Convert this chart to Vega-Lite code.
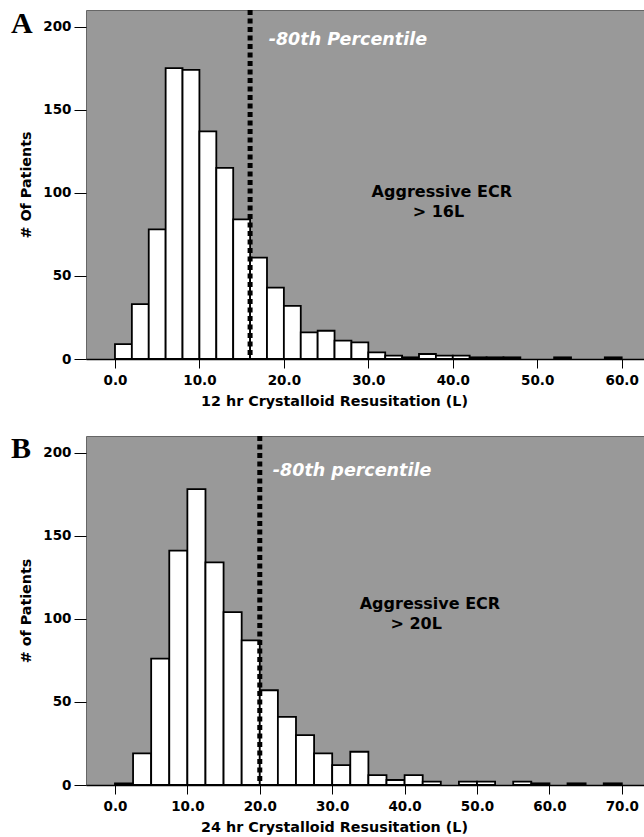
{
  "$schema": "https://vega.github.io/schema/vega-lite/v6.json",
  "background": "white",
  "padding": {"left": 10, "top": 7, "right": 0, "bottom": 2},
  "spacing": 23,
  "config": {
    "view": {"fill": "#999999", "stroke": "#666666", "strokeWidth": 1},
    "font": "DejaVu Sans",
    "axis": {
      "grid": false,
      "labelFont": "DejaVu Sans", "labelFontWeight": "bold", "labelFontSize": 13.5, "labelColor": "black",
      "titleFont": "DejaVu Sans", "titleFontWeight": "bold", "titleFontSize": 14.3, "titleColor": "black",
      "tickColor": "black", "tickWidth": 1
    }
  },
  "datasets": {
    "binsA": [
      {"x0": 0, "x1": 2, "n": 9}, {"x0": 2, "x1": 4, "n": 33}, {"x0": 4, "x1": 6, "n": 78},
      {"x0": 6, "x1": 8, "n": 175}, {"x0": 8, "x1": 10, "n": 174}, {"x0": 10, "x1": 12, "n": 137},
      {"x0": 12, "x1": 14, "n": 115}, {"x0": 14, "x1": 16, "n": 84}, {"x0": 16, "x1": 18, "n": 61},
      {"x0": 18, "x1": 20, "n": 43}, {"x0": 20, "x1": 22, "n": 32}, {"x0": 22, "x1": 24, "n": 16},
      {"x0": 24, "x1": 26, "n": 17}, {"x0": 26, "x1": 28, "n": 11}, {"x0": 28, "x1": 30, "n": 10},
      {"x0": 30, "x1": 32, "n": 4}, {"x0": 32, "x1": 34, "n": 2}, {"x0": 34, "x1": 36, "n": 1},
      {"x0": 36, "x1": 38, "n": 3}, {"x0": 38, "x1": 40, "n": 2}, {"x0": 40, "x1": 42, "n": 2},
      {"x0": 42, "x1": 44, "n": 1}, {"x0": 44, "x1": 46, "n": 1}, {"x0": 46, "x1": 48, "n": 1},
      {"x0": 52, "x1": 54, "n": 1}, {"x0": 58, "x1": 60, "n": 1}
    ],
    "binsB": [
      {"x0": 0, "x1": 2.5, "n": 1}, {"x0": 2.5, "x1": 5, "n": 19}, {"x0": 5, "x1": 7.5, "n": 76},
      {"x0": 7.5, "x1": 10, "n": 141}, {"x0": 10, "x1": 12.5, "n": 178}, {"x0": 12.5, "x1": 15, "n": 134},
      {"x0": 15, "x1": 17.5, "n": 104}, {"x0": 17.5, "x1": 20, "n": 87}, {"x0": 20, "x1": 22.5, "n": 57},
      {"x0": 22.5, "x1": 25, "n": 41}, {"x0": 25, "x1": 27.5, "n": 30}, {"x0": 27.5, "x1": 30, "n": 19},
      {"x0": 30, "x1": 32.5, "n": 12}, {"x0": 32.5, "x1": 35, "n": 20}, {"x0": 35, "x1": 37.5, "n": 6},
      {"x0": 37.5, "x1": 40, "n": 3}, {"x0": 40, "x1": 42.5, "n": 6}, {"x0": 42.5, "x1": 45, "n": 2},
      {"x0": 47.5, "x1": 50, "n": 2}, {"x0": 50, "x1": 52.5, "n": 2}, {"x0": 55, "x1": 57.5, "n": 2},
      {"x0": 57.5, "x1": 60, "n": 1}, {"x0": 62.5, "x1": 65, "n": 1}, {"x0": 67.5, "x1": 70, "n": 1}
    ],
    "pctA": [{"x": 18.2, "y": 192, "t": "-80th Percentile"}],
    "ecrA": [{"x": 38.7, "y": 100.5, "t": "Aggressive ECR"}, {"x": 38.3, "y": 88.5, "t": "> 16L"}],
    "panelA": [{"x": -12.31, "y": 196.2, "t": "A"}],
    "pctB": [{"x": 21.8, "y": 188.8, "t": "-80th percentile"}],
    "ecrB": [{"x": 43.5, "y": 109, "t": "Aggressive ECR"}, {"x": 41.6, "y": 97, "t": "> 20L"}],
    "panelB": [{"x": -14.36, "y": 196.8, "t": "B"}]
  },
  "vconcat": [
    {
      "width": 559, "height": 349,
      "layer": [
        {
          "data": {"name": "binsA"},
          "mark": {"type": "rect", "fill": "white", "stroke": "black", "strokeWidth": 1.8},
          "encoding": {
            "x": {"field": "x0", "type": "quantitative", "scale": {"domain": [-3.43, 62.76], "nice": false, "zero": false},
              "axis": {"values": [0, 10, 20, 30, 40, 50, 60], "format": ".1f", "title": "12 hr Crystalloid Resusitation (L)", "domain": true, "domainColor": "black", "domainWidth": 1.5, "tickSize": 9, "labelPadding": 5, "titlePadding": 8, "titleX": 248, "titleAlign": "center"}},
            "x2": {"field": "x1"},
            "y": {"field": "n", "type": "quantitative", "scale": {"domain": [0, 210], "nice": false},
              "axis": {"values": [0, 50, 100, 150, 200], "title": "# Of Patients", "domain": false, "tickSize": 12, "labelPadding": 3, "titlePadding": 9}}
          }
        },
        {
          "data": {"values": [{}]},
          "mark": {"type": "rule", "stroke": "black", "strokeWidth": 5, "strokeDash": [5, 3.5]},
          "encoding": {"x": {"datum": 16}}
        },
        {
          "data": {"name": "pctA"},
          "mark": {"type": "text", "align": "left", "baseline": "middle", "color": "white", "font": "DejaVu Sans", "fontSize": 17.5, "fontWeight": "bold", "fontStyle": "italic"},
          "encoding": {"x": {"field": "x", "type": "quantitative"}, "y": {"field": "y", "type": "quantitative"}, "text": {"field": "t"}}
        },
        {
          "data": {"name": "ecrA"},
          "mark": {"type": "text", "align": "center", "baseline": "middle", "color": "black", "font": "DejaVu Sans", "fontSize": 16, "fontWeight": "bold"},
          "encoding": {"x": {"field": "x", "type": "quantitative"}, "y": {"field": "y", "type": "quantitative"}, "text": {"field": "t"}}
        },
        {
          "data": {"name": "panelA"},
          "mark": {"type": "text", "align": "left", "baseline": "alphabetic", "color": "black", "font": "Liberation Serif", "fontSize": 30, "fontWeight": "bold", "clip": false},
          "encoding": {"x": {"field": "x", "type": "quantitative"}, "y": {"field": "y", "type": "quantitative"}, "text": {"field": "t"}}
        }
      ]
    },
    {
      "width": 559, "height": 349,
      "layer": [
        {
          "data": {"name": "binsB"},
          "mark": {"type": "rect", "fill": "white", "stroke": "black", "strokeWidth": 1.8},
          "encoding": {
            "x": {"field": "x0", "type": "quantitative", "scale": {"domain": [-4.0, 73.2], "nice": false, "zero": false},
              "axis": {"values": [0, 10, 20, 30, 40, 50, 60, 70], "format": ".1f", "title": "24 hr Crystalloid Resusitation (L)", "domain": true, "domainColor": "black", "domainWidth": 1.5, "tickSize": 9, "labelPadding": 5, "titlePadding": 8, "titleX": 248, "titleAlign": "center"}},
            "x2": {"field": "x1"},
            "y": {"field": "n", "type": "quantitative", "scale": {"domain": [0, 210], "nice": false},
              "axis": {"values": [0, 50, 100, 150, 200], "title": "# of Patients", "domain": false, "tickSize": 12, "labelPadding": 3, "titlePadding": 9}}
          }
        },
        {
          "data": {"values": [{}]},
          "mark": {"type": "rule", "stroke": "black", "strokeWidth": 5, "strokeDash": [5, 3.5]},
          "encoding": {"x": {"datum": 20}}
        },
        {
          "data": {"name": "pctB"},
          "mark": {"type": "text", "align": "left", "baseline": "middle", "color": "white", "font": "DejaVu Sans", "fontSize": 17.5, "fontWeight": "bold", "fontStyle": "italic"},
          "encoding": {"x": {"field": "x", "type": "quantitative"}, "y": {"field": "y", "type": "quantitative"}, "text": {"field": "t"}}
        },
        {
          "data": {"name": "ecrB"},
          "mark": {"type": "text", "align": "center", "baseline": "middle", "color": "black", "font": "DejaVu Sans", "fontSize": 16, "fontWeight": "bold"},
          "encoding": {"x": {"field": "x", "type": "quantitative"}, "y": {"field": "y", "type": "quantitative"}, "text": {"field": "t"}}
        },
        {
          "data": {"name": "panelB"},
          "mark": {"type": "text", "align": "left", "baseline": "alphabetic", "color": "black", "font": "Liberation Serif", "fontSize": 30, "fontWeight": "bold", "clip": false},
          "encoding": {"x": {"field": "x", "type": "quantitative"}, "y": {"field": "y", "type": "quantitative"}, "text": {"field": "t"}}
        }
      ]
    }
  ]
}
